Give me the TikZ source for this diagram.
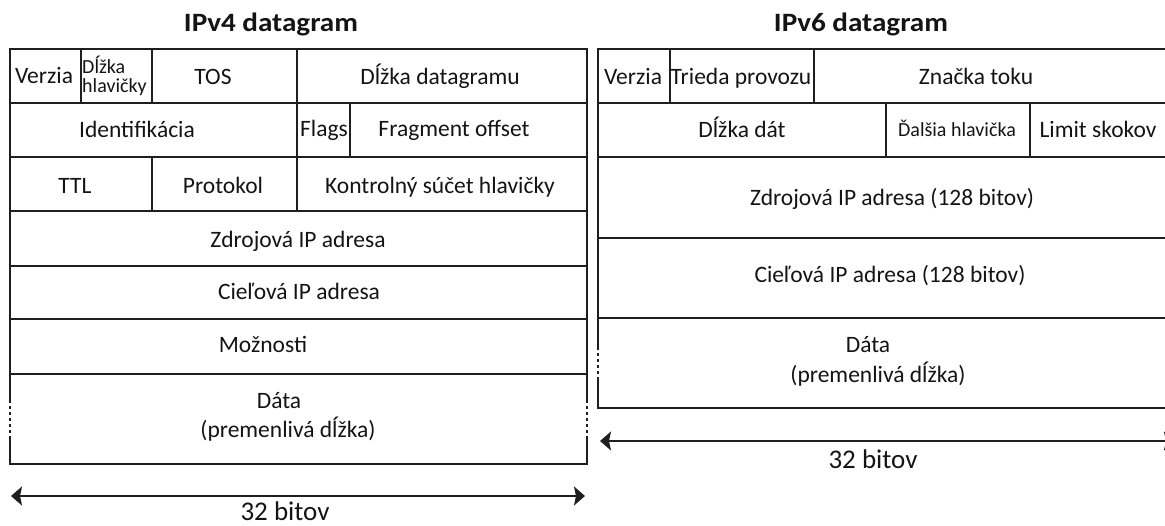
\documentclass[tikz,border=0pt]{standalone}
\usepackage{fontspec}
\setmainfont{Carlito}
\newfontfamily\headfont{Carlito}[FakeStretch=1.1]
\usetikzlibrary{arrows.meta}

\begin{document}
\begin{tikzpicture}[x=1pt,y=-1pt,
  grid/.style={line width=1.8pt, draw=black!88},
  cut/.style={grid, dash pattern=on 3pt off 3pt},
  lbl/.style={anchor=base, inner sep=0pt, text=black!92, font=\fontsize{23.5}{28}\selectfont},
  lblsm/.style={lbl, font=\fontsize{20}{19}\selectfont},
  ttl/.style={anchor=base, inner sep=0pt, text=black!92, font=\headfont\bfseries\fontsize{26.5}{30}\selectfont},
  bitslbl/.style={lbl, font=\fontsize{27}{30}\selectfont},
  spanarrow/.style={line width=1.8pt, draw=black!88,
    arrows={Stealth[length=11pt,width=19pt,inset=2pt]-Stealth[length=11pt,width=19pt,inset=2pt]}}]
\useasboundingbox (0,0) rectangle (1165,526);
\clip (0,0) rectangle (1165,526);

% ---------------- IPv4 header ----------------
\node[ttl] (t4) at (271,31.7) {IPv4 datagram};

% frame, broken on the sides of the variable-length data row
\draw[grid] (10,400) -- (10,49) -- (587,49) -- (587,400);
\draw[grid] (10,436) -- (10,464) -- (587,464) -- (587,436);
\draw[cut] (10,400) -- (10,436);
\draw[cut] (587,400) -- (587,436);
% row separators
\foreach \yy in {103,157,211,266,319,374}
  \draw[grid] (10,\yy) -- (587,\yy);
% column separators
\draw[grid] (81,49) -- (81,103);
\draw[grid] (152,49) -- (152,103);
\draw[grid] (297,49) -- (297,211);
\draw[grid] (350,103) -- (350,157);
\draw[grid] (152,157) -- (152,211);

\node[lbl] (v4ver) at (44,84) {Verzia};
\node[lblsm, anchor=base west] (v4ihl) at (82,93)
  {\begin{tabular}[b]{@{}l@{}}Dĺžka\\hlavičky\end{tabular}};
\node[lbl] (v4tos) at (213,85) {TOS};
\node[lbl] (v4len) at (440,85) {Dĺžka datagramu};
\node[lbl] (v4id) at (137,138) {Identifikácia};
\node[lbl] (v4flg) at (324,137) {Flags};
\node[lbl] (v4fo) at (454,137) {Fragment offset};
\node[lbl] (v4ttl) at (75,193.5) {TTL};
\node[lbl] (v4pro) at (223,193.5) {Protokol};
\node[lbl] (v4chk) at (440,193.5) {Kontrolný súčet hlavičky};
\node[lbl] (v4src) at (298,248) {Zdrojová IP adresa};
\node[lbl] (v4dst) at (299,300) {Cieľová IP adresa};
\node[lbl] (v4opt) at (263,353) {Možnosti};
\node[lbl] (v4dat) at (279,409) {Dáta};
\node[lbl] (v4var) at (288,438) {(premenlivá dĺžka)};

\coordinate (a4l) at (11,496);
\coordinate (a4r) at (585,496);
\draw[spanarrow] (a4l) -- (a4r);
\node[bitslbl] (v4bits) at (285,520.5) {32 bitov};

% ---------------- IPv6 header ----------------
\node[ttl] (t6) at (861,31.7) {IPv6 datagram};

\draw[grid] (598,347) -- (598,49) -- (1175,49) -- (1175,347);
\draw[grid] (598,380) -- (598,408) -- (1175,408) -- (1175,380);
\draw[cut] (598,347) -- (598,380);
\draw[cut] (1175,347) -- (1175,380);
\foreach \yy in {103,157,238,318}
  \draw[grid] (598,\yy) -- (1175,\yy);
\draw[grid] (670,49) -- (670,103);
\draw[grid] (814,49) -- (814,103);
\draw[grid] (886,103) -- (886,157);
\draw[grid] (1030,103) -- (1030,157);

\node[lbl] (v6ver) at (633,85) {Verzia};
\node[lbl] (v6tc) at (741,85) {Trieda provozu};
\node[lbl] (v6fl) at (976,85) {Značka toku};
\node[lbl] (v6len) at (742,138) {Dĺžka dát};
\node[lblsm] (v6nh) at (957,137) {Ďalšia hlavička};
\node[lbl] (v6hl) at (1098,138) {Limit skokov};
\node[lbl] (v6src) at (892,206) {Zdrojová IP adresa (128 bitov)};
\node[lbl] (v6dst) at (890,283) {Cieľová IP adresa (128 bitov)};
\node[lbl] (v6dat) at (868,353) {Dáta};
\node[lbl] (v6var) at (878,383) {(premenlivá dĺžka)};

\coordinate (a6l) at (600,441);
\coordinate (a6r) at (1175,441);
\draw[spanarrow] (a6l) -- (a6r);
\node[bitslbl] (v6bits) at (873,468) {32 bitov};
\end{tikzpicture}
\end{document}
